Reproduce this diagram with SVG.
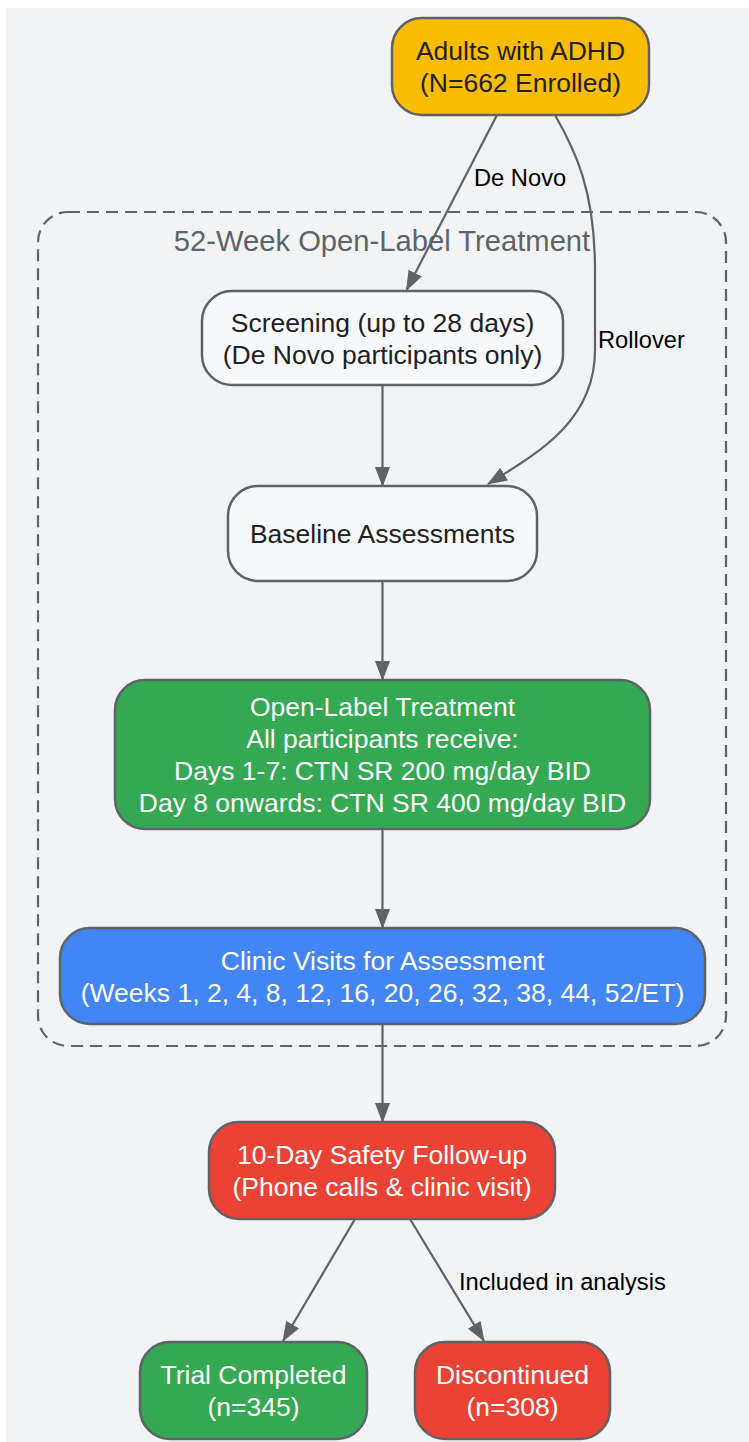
<svg xmlns="http://www.w3.org/2000/svg" width="749" height="1442" viewBox="0 0 749 1442">
<style>
.node{stroke:#5F6368;stroke-width:2.5}
.t{font-family:"Liberation Sans",Arial,sans-serif;font-size:26.5px;text-anchor:middle}
.dark{fill:#202124}
.light{fill:#FFFFFF}
.edge{fill:none;stroke:#5F6368;stroke-width:2.2}
.el{font-family:"Liberation Sans",Arial,sans-serif;font-size:23.7px;fill:#000000}
</style>
<defs>
<marker id="arr" markerUnits="userSpaceOnUse" viewBox="0 0 20 15" markerWidth="20" markerHeight="15" refX="19" refY="7.5" orient="auto">
<path d="M0,0 L20,7.5 L0,15 z" fill="#5F6368"/>
</marker>
</defs>
<rect x="0" y="0" width="749" height="1442" fill="#FFFFFF"/>
<rect x="6" y="8" width="743" height="1434" fill="#F1F3F4"/>
<g id="cluster">
<rect x="38" y="212" width="688" height="834" rx="30" fill="none" stroke="#5F6368" stroke-width="2.2" stroke-dasharray="12 7"/>
<text x="382" y="251" font-family="Liberation Sans,Arial,sans-serif" font-size="29.2px" fill="#5F6368" text-anchor="middle">52-Week Open-Label Treatment</text>
</g>
<g id="connectors">
<path class="edge" d="M497,115 L406.5,290" marker-end="url(#arr)"/>
<path class="edge" d="M555,115 C575,150 595,190 595,270 L595,350 C595,420 540,452 488,484" marker-end="url(#arr)"/>
<path class="edge" d="M382.5,385 L382.5,486" marker-end="url(#arr)"/>
<path class="edge" d="M382.5,581 L382.5,680" marker-end="url(#arr)"/>
<path class="edge" d="M382.5,829 L382.5,928" marker-end="url(#arr)"/>
<path class="edge" d="M382.5,1024 L382.5,1122" marker-end="url(#arr)"/>
<path class="edge" d="M355,1219 L283,1341" marker-end="url(#arr)"/>
<path class="edge" d="M410,1219 L484,1341" marker-end="url(#arr)"/>
<text class="el" x="474" y="186">De Novo</text>
<text class="el" x="598" y="348">Rollover</text>
<text class="el" x="459" y="1290">Included in analysis</text>
</g>
<g id="enrolled">
<rect class="node" x="392" y="18" width="257" height="97" rx="30" fill="#FBBC04"/>
<text class="t dark" x="520.5" y="60">Adults with ADHD</text>
<text class="t dark" x="520.5" y="92">(N=662 Enrolled)</text>
</g>
<g id="screening">
<rect class="node" x="202" y="291" width="361" height="94" rx="30" fill="#F8F9FA"/>
<text class="t dark" x="382.5" y="332">Screening (up to 28 days)</text>
<text class="t dark" x="382.5" y="364">(De Novo participants only)</text>
</g>
<g id="baseline">
<rect class="node" x="228" y="486" width="309" height="95" rx="30" fill="#F8F9FA"/>
<text class="t dark" x="382.5" y="543">Baseline Assessments</text>
</g>
<g id="treatment">
<rect class="node" x="115" y="680" width="535" height="149" rx="30" fill="#34A853"/>
<text class="t light" x="382.5" y="716">Open-Label Treatment</text>
<text class="t light" x="382.5" y="748">All participants receive:</text>
<text class="t light" x="382.5" y="780">Days 1-7: CTN SR 200 mg/day BID</text>
<text class="t light" x="382.5" y="812">Day 8 onwards: CTN SR 400 mg/day BID</text>
</g>
<g id="visits">
<rect class="node" x="60" y="928" width="645" height="96" rx="30" fill="#4285F4"/>
<text class="t light" x="382.5" y="970">Clinic Visits for Assessment</text>
<text class="t light" x="382.5" y="1002">(Weeks 1, 2, 4, 8, 12, 16, 20, 26, 32, 38, 44, 52/ET)</text>
</g>
<g id="followup">
<rect class="node" x="209" y="1122" width="346" height="97" rx="30" fill="#EA4335"/>
<text class="t light" x="382" y="1164">10-Day Safety Follow-up</text>
<text class="t light" x="382" y="1196">(Phone calls &amp; clinic visit)</text>
</g>
<g id="completed">
<rect class="node" x="140" y="1342" width="227" height="97" rx="30" fill="#34A853"/>
<text class="t light" x="253.5" y="1384">Trial Completed</text>
<text class="t light" x="253.5" y="1416">(n=345)</text>
</g>
<g id="discontinued">
<rect class="node" x="415" y="1342" width="195" height="97" rx="30" fill="#EA4335"/>
<text class="t light" x="512.5" y="1384">Discontinued</text>
<text class="t light" x="512.5" y="1416">(n=308)</text>
</g>
</svg>
